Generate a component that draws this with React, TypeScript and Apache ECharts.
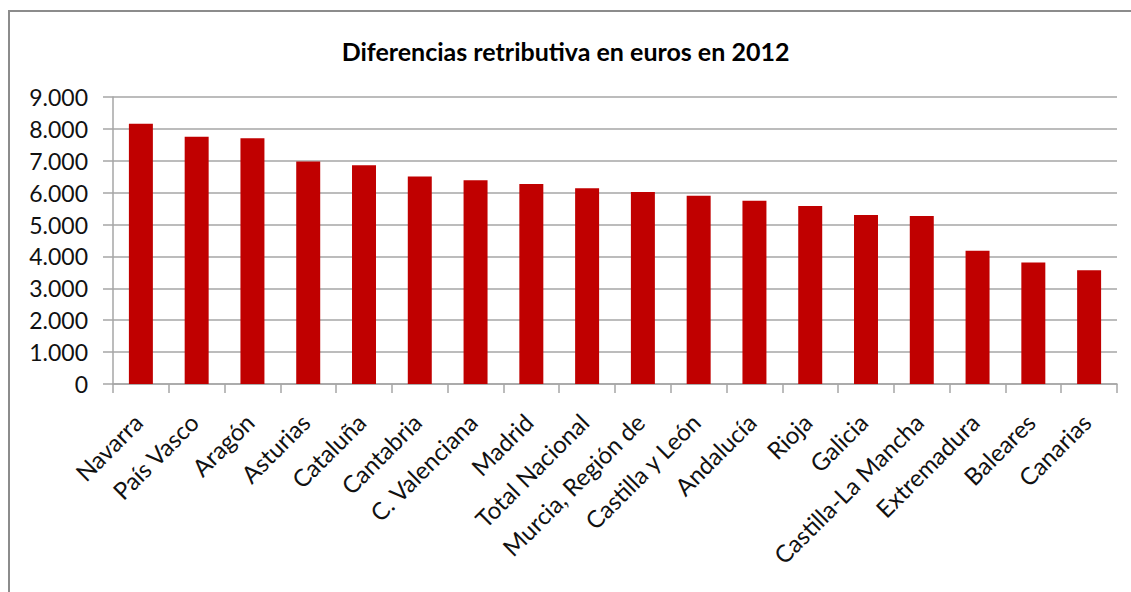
import React, { useEffect, useRef } from "react";
import * as echarts from "echarts";

const categories = [
  "Navarra", "País Vasco", "Aragón", "Asturias", "Cataluña", "Cantabria",
  "C. Valenciana", "Madrid", "Total Nacional", "Murcia, Región de",
  "Castilla y León", "Andalucía", "Rioja", "Galicia", "Castilla-La Mancha",
  "Extremadura", "Baleares", "Canarias",
];
const values = [
  8160, 7750, 7710, 6980, 6860, 6510, 6390, 6270, 6140, 6020,
  5900, 5750, 5580, 5300, 5270, 4180, 3810, 3570,
];
const titleText = "Diferencias retributiva en euros en 2012";

const FONT = "Lato, 'Open Sans', sans-serif";

export default function App() {
  const ref = useRef<HTMLDivElement>(null);
  useEffect(() => {
    document.body.style.margin = "0";
    if (!ref.current) return;
    const chart = echarts.init(ref.current, null, { renderer: "svg" });
    chart.setOption({
      animation: false,
      backgroundColor: "#ffffff",
      title: {
        text: titleText,
        left: "center",
        top: 33,
        textStyle: { fontFamily: FONT, fontSize: 25, fontWeight: "bold", color: "#000" },
      },
      graphic: [
        {
          type: "rect",
          shape: { x: 9, y: 11, width: 1300, height: 800 },
          style: { fill: "none", stroke: "#8c8c8c", lineWidth: 2 },
          silent: true,
        },
      ],
      grid: { left: 113, right: 14, top: 97, bottom: 208, containLabel: false },
      xAxis: {
        type: "category",
        data: categories,
        axisLine: { show: true, lineStyle: { color: "#a6a6a6", width: 1.5 } },
        axisTick: { show: true, alignWithLabel: false, length: 9, lineStyle: { color: "#a6a6a6", width: 1.5 } },
        axisLabel: {
          interval: 0,
          rotate: 45,
          margin: 31,
          padding: [0, 4, 0, 0],
          fontFamily: FONT,
          fontSize: 24,
          color: "#111",
        },
      },
      yAxis: {
        type: "value",
        min: 0,
        max: 9000,
        interval: 1000,
        axisLine: { show: true, lineStyle: { color: "#a6a6a6", width: 1.5 } },
        axisTick: { show: true, length: 10, lineStyle: { color: "#a6a6a6", width: 1.5 } },
        splitLine: { show: true, lineStyle: { color: "#a6a6a6", width: 1.5 } },
        axisLabel: {
          margin: 25,
          fontFamily: FONT,
          fontSize: 23,
          color: "#111",
          formatter: (v: number) => (v === 0 ? "0" : v.toString().replace(/\B(?=(\d{3})+(?!\d))/g, ".")),
        },
      },
      series: [
        {
          type: "bar",
          data: values,
          barWidth: "43%",
          itemStyle: { color: "#c00000" },
        },
      ],
    });
    return () => chart.dispose();
  }, []);
  return <div ref={ref} style={{ width: 1131, height: 592 }} />;
}
